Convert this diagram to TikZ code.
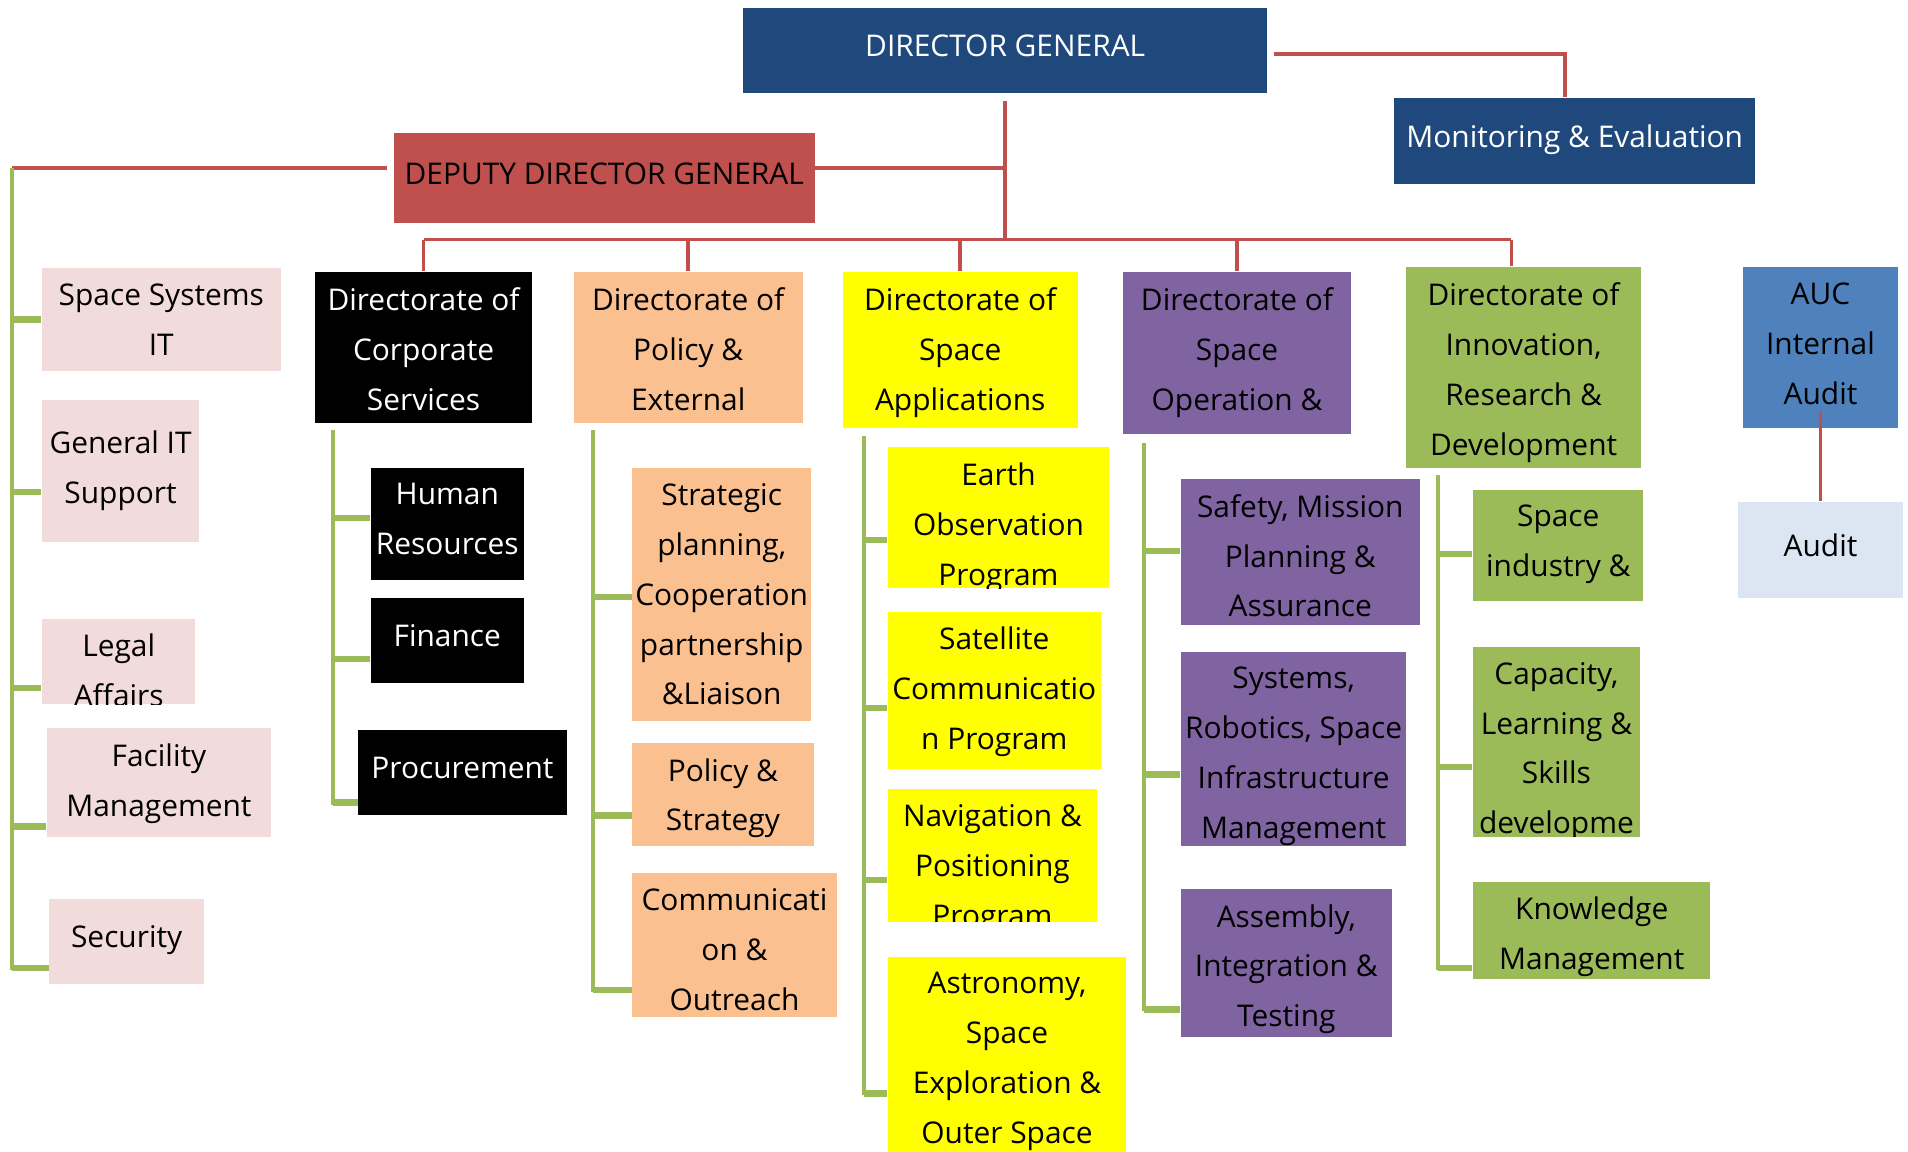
\documentclass[tikz,border=0pt]{standalone}
\usepackage{fontspec}
\setmainfont{Open Sans}
\usepackage{tikz}
\usetikzlibrary{positioning, calc}
\usepackage{xcolor}
\definecolor{auDarkBlue}{RGB}{31, 73, 125}
\definecolor{auRed}{RGB}{192, 80, 77}
\definecolor{auPink}{RGB}{242, 220, 219}
\definecolor{auPeach}{RGB}{250, 192, 144}
\definecolor{auYellow}{RGB}{255, 255, 0}
\definecolor{auPurple}{RGB}{128, 100, 162}
\definecolor{auGreen}{RGB}{155, 187, 89}
\definecolor{auBlue}{RGB}{79, 129, 189}
\definecolor{auPaleBlue}{RGB}{220, 230, 242}
\newcommand{\pu}{0.012168cm}
\newcommand{\boxfont}{\fontsize{8.5}{14.2}\selectfont}

\begin{document}
\begin{tikzpicture}[
    x=\pu, y=-\pu,
    unit/.style={
        rectangle,
        inner sep=0pt,
        anchor=north west,
        align=center,
        font=\boxfont
    },
    boxsize/.style 2 args={
        minimum width=#1*\pu,
        minimum height=#2*\pu
    },
    oneline/.style={
        text height=7pt,
        text depth=3.5pt
    },
    toptext/.style 2 args={
        path picture={
            \node[inner sep=0pt, minimum width=0pt, minimum height=0pt, fill=none,
                  anchor=north, align=center, font=\boxfont] (#1)
                at ([yshift=-12*\pu]path picture bounding box.north) {#2};
        }
    },
    redline/.style={
        draw=auRed,
        line width=1pt
    },
    greenline/.style={
        draw=auGreen,
        line width=1.1pt
    },
    greentick/.style={
        draw=auGreen,
        line width=1.8pt
    }
]
\useasboundingbox (0,0) rectangle (1568,946);

% Top level
\node[unit, oneline, boxsize={431}{70}, fill=auDarkBlue, text=white] (dg) at (610,6) {DIRECTOR GENERAL};
\node[unit, oneline, boxsize={297}{71}, fill=auDarkBlue, text=white] (me) at (1145,80) {Monitoring \& Evaluation};
\node[unit, oneline, boxsize={346}{74}, fill=auRed] (ddg) at (323,109) {DEPUTY DIRECTOR GENERAL};

% Left column - support units
\node[unit, boxsize={196}{84}, fill=auPink, toptext={sysit-txt}{Space Systems\\IT}] (sysit) at (34,220) {};
\node[unit, boxsize={129}{117}, fill=auPink] (genit) at (34,328) {General IT\\Support};
\node[unit, boxsize={126}{70}, fill=auPink, toptext={legal-txt}{Legal\\Affairs}] (legal) at (34,508) {};
\node[unit, boxsize={184}{89}, fill=auPink, toptext={facil-txt}{Facility\\Management}] (facil) at (38,598) {};
\node[unit, oneline, boxsize={127}{70}, fill=auPink] (secur) at (40,738) {Security};

% Corporate Services
\node[unit, boxsize={179}{124}, fill=black, text=white, toptext={corp-txt}{Directorate of\\Corporate\\Services}] (corp) at (258,223) {};
\node[unit, boxsize={126}{92}, fill=black, text=white, toptext={hr-txt}{Human\\Resources}] (hr) at (304,384) {};
\node[unit, oneline, boxsize={126}{70}, fill=black, text=white] (fin) at (304,491) {Finance};
\node[unit, oneline, boxsize={171}{70}, fill=black, text=white] (proc) at (294,599) {Procurement};

% Policy & External
\node[unit, boxsize={188}{124}, fill=auPeach, toptext={pol-txt}{Directorate of\\Policy \&\\External}] (pol) at (471,223) {};
\node[unit, boxsize={147}{208}, fill=auPeach, toptext={strat-txt}{Strategic\\planning,\\Cooperation\\partnership\\\&Liaison}] (strat) at (519,384) {};
\node[unit, boxsize={149}{85}, fill=auPeach, toptext={polst-txt}{Policy \&\\Strategy}] (polst) at (519,610) {};
\node[unit, boxsize={168}{118}, fill=auPeach, toptext={comm-txt}{Communicati\\on \&\\Outreach}] (comm) at (519,717) {};

% Space Applications
\node[unit, boxsize={193}{128}, fill=auYellow, toptext={spapp-txt}{Directorate of\\Space\\Applications}] (spapp) at (692,223) {};
\node[unit, boxsize={182}{116}, fill=auYellow, toptext={earth-txt}{Earth\\Observation\\Program}] (earth) at (729,367) {};
\node[unit, boxsize={175}{129}, fill=auYellow, toptext={sat-txt}{Satellite\\Communicatio\\n Program}] (sat) at (729,502) {};
\node[unit, boxsize={172}{109}, fill=auYellow, toptext={nav-txt}{Navigation \&\\Positioning\\Program}] (nav) at (729,648) {};
\node[unit, boxsize={196}{180}, fill=auYellow, toptext={astro-txt}{Astronomy,\\Space\\Exploration \&\\Outer Space}] (astro) at (729,786) {};

% Space Operation
\node[unit, boxsize={188}{133}, fill=auPurple, toptext={spop-txt}{Directorate of\\Space\\Operation \&}] (spop) at (922,223) {};
\node[unit, boxsize={196}{120}, fill=auPurple, toptext={safe-txt}{Safety, Mission\\Planning \&\\Assurance}] (safe) at (970,393) {};
\node[unit, boxsize={185}{160}, fill=auPurple, toptext={sysrob-txt}{Systems,\\Robotics, Space\\Infrastructure\\Management}] (sysrob) at (970,535) {};
\node[unit, boxsize={173}{122}, fill=auPurple, toptext={assem-txt}{Assembly,\\Integration \&\\Testing}] (assem) at (970,730) {};

% Innovation, Research & Development
\node[unit, boxsize={193}{165}, fill=auGreen, toptext={innov-txt}{Directorate of\\Innovation,\\Research \&\\Development}] (innov) at (1155,219) {};
\node[unit, boxsize={140}{91}, fill=auGreen, toptext={spind-txt}{Space\\industry \&}] (spind) at (1210,402) {};
\node[unit, boxsize={137}{156}, fill=auGreen, toptext={capac-txt}{Capacity,\\Learning \&\\Skills\\developme}] (capac) at (1210,531) {};
\node[unit, boxsize={195}{80}, fill=auGreen, toptext={know-txt}{Knowledge\\Management}] (know) at (1210,724) {};

% Audit
\node[unit, boxsize={127}{132}, fill=auBlue, toptext={auc-txt}{AUC\\Internal\\Audit}] (auc) at (1432,219) {};
\node[unit, oneline, boxsize={135}{79}, fill=auPaleBlue] (audit) at (1428,412) {Audit};

% Red links
\coordinate (bar) at (0,197);
\coordinate (adm-sp) at (10,138);
\coordinate (innov-top) at ([xshift=-10*\pu]innov.north);
\draw[redline] ([xshift=5*\pu, yshift=-3*\pu]dg.east) -| ([xshift=-8*\pu]me.north);
\draw[redline] ([yshift=-6*\pu]dg.south) -- (dg.south |- bar);
\draw[redline] (ddg.east |- adm-sp) -- (dg.south |- adm-sp);
\draw[redline] (adm-sp) -- ([xshift=-5*\pu]ddg.west |- adm-sp);
\draw[redline] (corp.north |- bar) -- (innov-top |- bar);
\foreach \d in {corp, pol, spapp, spop}
    \draw[redline] (\d.north |- bar) -- (\d.north);
\draw[redline] (innov-top |- bar) -- (innov-top);
\draw[redline] ($(auc.south)+(0,-14)$) -- (audit.north);

% Green links
\draw[greenline] (adm-sp) |- ($(secur.west)+(0,22)$);
\foreach \b/\dy in {sysit/0, genit/17, legal/22, facil/36, secur/22} {
    \coordinate (t\b) at ($(\b.west)+(0,\dy)$);
    \draw[greentick] (t\b -| adm-sp) -- (t\b);
}
\coordinate (corp-sp) at ($(corp.south west)+(16,5)$);
\draw[greenline] (corp-sp) |- ($(proc.west)+(0,25)$);
\foreach \b/\dy in {hr/-5, fin/15, proc/25} {
    \coordinate (t\b) at ($(\b.west)+(0,\dy)$);
    \draw[greentick] (t\b -| corp-sp) -- (t\b);
}
\coordinate (pol-sp) at ($(pol.south west)+(16,5)$);
\draw[greenline] (pol-sp) |- ($(comm.west)+(0,37)$);
\foreach \b/\dy in {strat/2, polst/17, comm/37} {
    \coordinate (t\b) at ($(\b.west)+(0,\dy)$);
    \draw[greentick] (t\b -| pol-sp) -- (t\b);
}
\coordinate (spapp-sp) at ($(spapp.south west)+(18,6)$);
\draw[greenline] (spapp-sp) |- ($(astro.west)+(0,22)$);
\foreach \b/\dy in {earth/18, sat/15, nav/20, astro/22} {
    \coordinate (t\b) at ($(\b.west)+(0,\dy)$);
    \draw[greentick] (t\b -| spapp-sp) -- (t\b);
}
\coordinate (spop-sp) at ($(spop.south west)+(18,7)$);
\draw[greenline] (spop-sp) |- ($(assem.west)+(0,38)$);
\foreach \b/\dy in {safe/-1, sysrob/21, assem/38} {
    \coordinate (t\b) at ($(\b.west)+(0,\dy)$);
    \draw[greentick] (t\b -| spop-sp) -- (t\b);
}
\coordinate (innov-sp) at ($(innov.south west)+(27,5)$);
\draw[greenline] (innov-sp) |- ($(know.west)+(0,31)$);
\foreach \b/\dy in {spind/7, capac/21, know/31} {
    \coordinate (t\b) at ($(\b.west)+(0,\dy)$);
    \draw[greentick] (t\b -| innov-sp) -- (t\b);
}

\end{tikzpicture}
\end{document}
